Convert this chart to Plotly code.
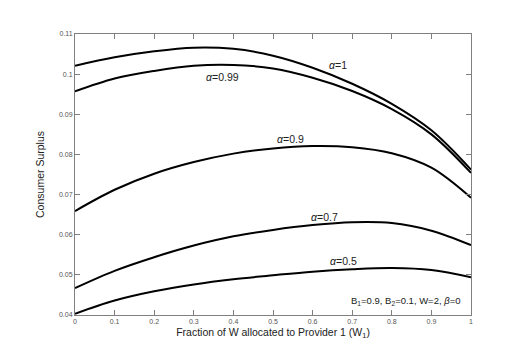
import plotly.graph_objects as go

w1 = [0, 0.1, 0.2, 0.3, 0.4, 0.5, 0.6, 0.7, 0.8, 0.9, 1.0]

cs_a100 = [0.1021, 0.1042, 0.1057, 0.1066, 0.1063, 0.1046, 0.1016, 0.0976, 0.0926, 0.0860, 0.0762]
cs_a099 = [0.0957, 0.0989, 0.1008, 0.1021, 0.1023, 0.1014, 0.0991, 0.0958, 0.0913, 0.0850, 0.0754]
cs_a090 = [0.0659, 0.0712, 0.0752, 0.0781, 0.0802, 0.0815, 0.0821, 0.0818, 0.0803, 0.0767, 0.0692]
cs_a070 = [0.0467, 0.0510, 0.0544, 0.0573, 0.0596, 0.0612, 0.0624, 0.0631, 0.0629, 0.0610, 0.0574]
cs_a050 = [0.0403, 0.0436, 0.0459, 0.0476, 0.0489, 0.0499, 0.0508, 0.0514, 0.0517, 0.0512, 0.0494]

series = [cs_a100, cs_a099, cs_a090, cs_a070, cs_a050]
labels = ["<i>α</i>=1", "<i>α</i>=0.99", "<i>α</i>=0.9", "<i>α</i>=0.7", "<i>α</i>=0.5"]
label_pos = [(0.664, 0.1022), (0.372, 0.0994), (0.543, 0.0839), (0.629, 0.0644), (0.679, 0.0534)]

x_ticks = [0, 0.1, 0.2, 0.3, 0.4, 0.5, 0.6, 0.7, 0.8, 0.9, 1]
x_ticktext = ["0", "0.1", "0.2", "0.3", "0.4", "0.5", "0.6", "0.7", "0.8", "0.9", "1"]
y_ticks = [0.04, 0.05, 0.06, 0.07, 0.08, 0.09, 0.10, 0.11]
y_ticktext = ["0.04", "0.05", "0.06", "0.07", "0.08", "0.09", "0.1", "0.11"]

FONT = "Liberation Sans Narrow, Liberation Sans, Arial"

fig = go.Figure()
for ys in series:
    fig.add_trace(go.Scatter(
        x=w1, y=ys, mode="lines",
        line=dict(color="black", width=2, shape="spline", smoothing=1),
        showlegend=False, hoverinfo="skip"
    ))

for txt, (ax, ay) in zip(labels, label_pos):
    fig.add_annotation(x=ax, y=ay, text=txt, showarrow=False,
                       font=dict(size=10.5, color="#222", family=FONT))

fig.add_annotation(
    x=0.979, y=0.0434, xanchor="right", showarrow=False,
    text="B<sub>1</sub>=0.9, B<sub>2</sub>=0.1, W=2, <i>β</i>=0",
    font=dict(size=9.5, color="#222", family=FONT)
)

axis_common = dict(
    showline=True, mirror="ticks", linecolor="#808080", linewidth=1,
    ticks="inside", ticklen=5, tickcolor="#808080",
    showgrid=False, zeroline=False,
    tickfont=dict(size=7, color="#555", family=FONT),
)

fig.update_xaxes(
    range=[0, 1], tickvals=x_ticks, ticktext=x_ticktext,
    title=dict(text="Fraction of W allocated to Provider 1 (W<sub>1</sub>)",
               font=dict(size=10.5, color="#222", family=FONT),
               standoff=4),
    **axis_common
)
fig.update_yaxes(
    range=[0.04, 0.11], tickvals=y_ticks, ticktext=y_ticktext,
    title=dict(text="Consumer Surplus",
               font=dict(size=10.5, color="#222", family=FONT),
               standoff=12),
    **axis_common
)

fig.update_layout(
    width=512, height=346,
    margin=dict(l=67, r=49, t=26, b=39),
    plot_bgcolor="white", paper_bgcolor="white",
)

fig.write_html("out.html")
